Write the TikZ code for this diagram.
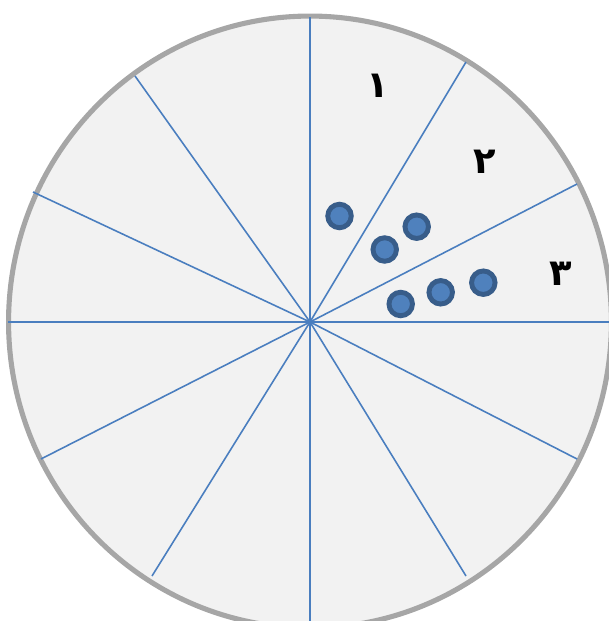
\documentclass[tikz,border=0pt]{standalone}
\usepackage{fontspec}
\newfontfamily\arabicfont[Script=Arabic]{DejaVu Sans}
\TeXXeTstate=1
\definecolor{rimgray}{HTML}{A6A6A6}
\definecolor{discfill}{HTML}{F2F2F2}
\definecolor{spokeblue}{HTML}{4A7EBF}
\definecolor{dotedge}{HTML}{385D8A}
\definecolor{dotfill}{HTML}{4F81BD}
\begin{document}
\begin{tikzpicture}[x=0.02cm, y=-0.02cm,
    disc/.style={draw=rimgray, line width=2.9pt, fill=discfill},
    spoke/.style={draw=spokeblue, line width=0.9pt},
    dot/.style={circle, draw=dotedge, fill=dotfill, line width=2.8pt, minimum size=0.47cm, inner sep=0pt},
    numlabel/.style={font=\arabicfont\bfseries\fontsize{21}{23}\selectfont, inner sep=0pt},
]
\useasboundingbox (0,0) rectangle (608,621);
\draw[disc] (310,322) ellipse [x radius=6.03cm, y radius=6.12cm];

\coordinate (o) at (310,322);
\coordinate (s1) at (310,17);
\coordinate (s2) at (466,62);
\coordinate (s3) at (577,184);
\coordinate (s4) at (640,322);
\coordinate (s5) at (577,459);
\coordinate (s6) at (466,576);
\coordinate (s7) at (310,640);
\coordinate (s8) at (152,576);
\coordinate (s9) at (41,459);
\coordinate (s10) at (8,322);
\coordinate (s11) at (33,192);
\coordinate (s12) at (135,76);

\foreach \i in {1,...,12}
    \draw[spoke] (o) -- (s\i);

\node[dot] (d1) at (339.5,216) {};
\node[dot] (d2) at (384.7,249.5) {};
\node[dot] (d3) at (416.7,226.7) {};
\node[dot] (d4) at (400.7,304) {};
\node[dot] (d5) at (440.7,292.3) {};
\node[dot] (d6) at (483.3,282.7) {};

\node[numlabel] (n1) at (378,86) {\beginR ۱\endR};
\node[numlabel] (n2) at (485,162) {\beginR ۲\endR};
\node[numlabel] (n3) at (561,274) {\beginR ۳\endR};
\end{tikzpicture}
\end{document}
